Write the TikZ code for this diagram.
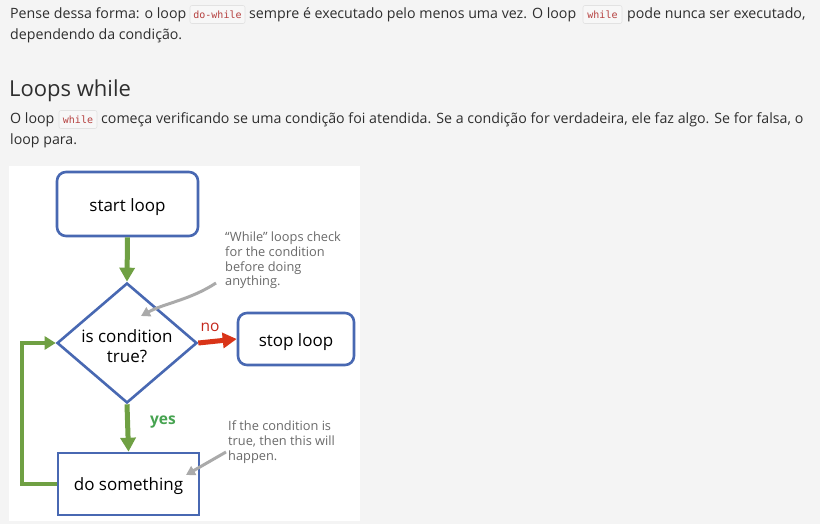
\documentclass[tikz,border=0pt]{standalone}
\usepackage{fontspec}
\setmainfont{Open Sans}
\newfontfamily\codefont{DejaVu Sans Mono}
\usetikzlibrary{arrows.meta,shapes.geometric}
\definecolor{pagebg}{HTML}{F4F4F4}
\definecolor{bodytxt}{HTML}{2E2E2E}
\definecolor{codetxt}{HTML}{B5403F}
\definecolor{codebg}{HTML}{F7F7F7}
\definecolor{codeline}{HTML}{E2E2E2}
\definecolor{flowblue}{HTML}{4868B2}
\definecolor{flowgreen}{HTML}{6FA043}
\definecolor{flowred}{HTML}{D93418}
\definecolor{notegray}{HTML}{6A6A6A}
\definecolor{notearrow}{HTML}{AAAAAA}
\definecolor{yesgreen}{HTML}{46A350}
\definecolor{nored}{HTML}{C4281C}
\tikzset{
  bodytext/.style={anchor=base west,inner sep=0pt,text=bodytxt,font=\fontsize{14.2}{17}\selectfont},
  codebox/.style={draw=codeline,fill=codebg,rounded corners=2pt,line width=0.6pt,text=codetxt,inner sep=0pt,minimum height=18pt,font=\codefont\fontsize{10}{12}\selectfont},
  roundbox/.style={draw=flowblue,line width=2.6pt,rounded corners=9pt,fill=white,inner sep=0pt},
  squarebox/.style={draw=flowblue,line width=2.6pt,fill=white,inner sep=0pt},
  flowlabel/.style={inner sep=0pt,align=center,text=black,font=\fontsize{17}{20.5}\selectfont},
  flowarrow/.style={line width=5pt,-{Triangle[length=14pt,width=15pt]}},
  notetext/.style={anchor=north west,align=left,inner sep=0pt,text=notegray,font=\fontsize{12.8}{14.8}\selectfont},
  notearr/.style={draw=notearrow,line width=3pt,-{Triangle[length=9pt,width=10pt]}}
}
\begin{document}
\begin{tikzpicture}[x=1pt,y=-1pt]
\fill[pagebg] (0,0) rectangle (820,524);
\useasboundingbox (0,0) rectangle (820,524);
% body text
\node[bodytext] (l1a) at (10,19) {Pense dessa forma: o loop};
\node[codebox,minimum width=55pt] (c1) at (217.5,14.5) {do-while};
\node[bodytext] (l1b) at (249,19) {sempre é executado pelo menos uma vez. O loop};
\node[codebox,minimum width=39pt] (c2) at (602.5,14.5) {while};
\node[bodytext] (l1c) at (627,19) {pode nunca ser executado,};
\node[bodytext] (l2) at (10,40) {dependendo da condição.};
\node[bodytext,font=\fontsize{22}{26}\selectfont] (head) at (9,97) {Loops while};
\node[bodytext] (l3a) at (10,124) {O loop};
\node[codebox,minimum width=38pt] (c3) at (78,119.5) {while};
\node[bodytext] (l3b) at (101,124) {começa verificando se uma condição foi atendida. Se a condição for verdadeira, ele faz algo. Se for falsa, o};
\node[bodytext] (l4) at (10,145) {loop para.};
% panel
\fill[white] (9,166) rectangle (360,521);
% flowchart shapes
\node[roundbox,minimum width=141pt,minimum height=64pt] (start) at (127.5,204) {};
\node[draw=flowblue,line width=2.6pt,shape=diamond,minimum width=140pt,minimum height=120pt,inner sep=0pt,fill=white] (cond) at (127,343) {};
\node[roundbox,minimum width=116pt,minimum height=52pt] (stop) at (296,339) {};
\node[squarebox,minimum width=141pt,minimum height=62pt] (do) at (128.5,484) {};
% flowchart texts
\node[flowlabel] (startt) at ([yshift=-3pt]start.center) {start loop};
\node[flowlabel] (condt) at ([yshift=-3pt]cond.center) {is condition\\true?};
\node[flowlabel] (stopt) at ([yshift=-3pt]stop.center) {stop loop};
\node[flowlabel] (dot) at ([yshift=-2pt]do.center) {do something};
% connectors
\draw[flowarrow,flowgreen] (start.south) -- (cond.north);
\draw[flowarrow,flowred] (cond.east) -- (stop.west);
\draw[flowarrow,flowgreen] (cond.south) -- (do.north);
\draw[flowgreen,line width=4pt,-{Triangle[length=11pt,width=13pt]}] (do.west) -- (22,484) |- (cond.west);
\node[text=nored,font=\fontsize{15.5}{18}\selectfont] (no) at (210,327) {no};
\node[text=yesgreen,font=\bfseries\fontsize{15.5}{18}\selectfont] (yes) at (163,422) {yes};
% notes
\node[notetext] (n1) at (225,231.5) {“While” loops check\\for the condition\\before doing\\anything.};
\node[notetext] (n2) at (228,420.5) {If the condition is\\true, then this will\\happen.};
\coordinate (n1s) at (216,283);
\coordinate (n1e) at (141,316);
\coordinate (n2s) at (226,452);
\coordinate (n2e) at (186,475);
\draw[notearr] (n1s) .. controls (190,300) and (165,303) .. (n1e);
\draw[notearr] (n2s) -- (n2e);
\end{tikzpicture}
\end{document}
